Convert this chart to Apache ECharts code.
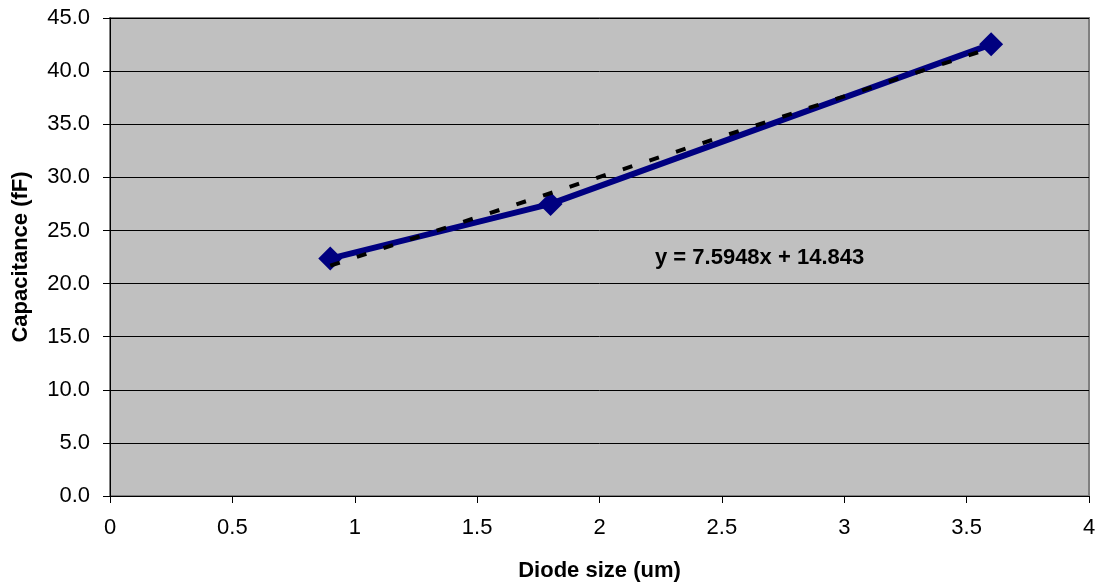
<!DOCTYPE html>
<html>
<head>
<meta charset="utf-8">
<script src="https://cdn.jsdelivr.net/npm/echarts@6/dist/echarts.min.js"></script>
<style>
  html, body { margin: 0; padding: 0; background: #fff; }
  #chart { width: 1100px; height: 587px; }
</style>
</head>
<body>
<div id="chart"></div>
<script>
// measured points (diode size in um, capacitance in fF)
let diodeSize = [0.9, 1.8, 3.6];
let capacitance = [22.35, 27.5, 42.52];

// linear trendline end points, y = 7.5948x + 14.843
let trendX = [0.9, 3.6];
let trendY = [21.68, 42.18];

let equationText = "y = 7.5948x + 14.843";

let yTicks = [0, 5, 10, 15, 20, 25, 30, 35, 40, 45];

const font = "Liberation Sans, Arial, sans-serif";
const fontSize = 22;

const myChart = echarts.init(document.getElementById("chart"), null, {
  width: 1100,
  height: 587,
});

let series = [
  {
    type: "line",
    name: "Capacitance",
    data: diodeSize.map((x, i) => [x, capacitance[i]]),
    symbol: "diamond",
    symbolSize: 24,
    lineStyle: { color: "#000080", width: 6 },
    itemStyle: { color: "#000080" },
    z: 3,
    animation: false,
  },
  {
    type: "line",
    name: "Linear",
    data: trendX.map((x, i) => [x, trendY[i]]),
    symbol: "none",
    lineStyle: { color: "#000000", width: 4, type: [10, 18] },
    z: 4,
    animation: false,
  },
];

let option = {
  animation: false,
  grid: {
    left: 110,
    right: 11,
    top: 18,
    bottom: 90,
    show: true,
    backgroundColor: "#c0c0c0",
    borderColor: "#808080",
    borderWidth: 2,
  },
  xAxis: {
    type: "value",
    min: 0,
    max: 4,
    interval: 0.5,
    name: "Diode size (um)",
    nameLocation: "middle",
    nameGap: 64,
    nameTextStyle: { fontFamily: font, fontSize: fontSize, fontWeight: "bold", color: "#000" },
    axisLine: { lineStyle: { color: "#000", width: 1 } },
    axisTick: { show: true, length: 7, lineStyle: { color: "#000" } },
    axisLabel: { fontFamily: font, fontSize: fontSize, color: "#000", margin: 21 },
    splitLine: { show: false },
  },
  yAxis: {
    type: "value",
    min: 0,
    max: 45,
    interval: 5,
    name: "Capacitance (fF)",
    nameLocation: "middle",
    nameGap: 78,
    nameRotate: 90,
    nameTextStyle: { fontFamily: font, fontSize: fontSize, fontWeight: "bold", color: "#000" },
    axisLine: { show: true, lineStyle: { color: "#000", width: 1 } },
    axisTick: { show: true, length: 7, lineStyle: { color: "#000" } },
    axisLabel: {
      fontFamily: font,
      fontSize: fontSize,
      color: "#000",
      margin: 20,
      formatter: (v) => (yTicks.includes(v) ? v.toFixed(1) : ""),
    },
    splitLine: { show: true, lineStyle: { color: "#000", width: 1 } },
  },
  graphic: [
    {
      type: "text",
      x: 655,
      y: 258,
      style: {
        text: equationText,
        fontFamily: font,
        fontSize: fontSize,
        fontWeight: "bold",
        fill: "#000",
        verticalAlign: "middle",
      },
      z: 10,
    },
  ],
  series,
};

option && myChart.setOption(option);
</script>
</body>
</html>
